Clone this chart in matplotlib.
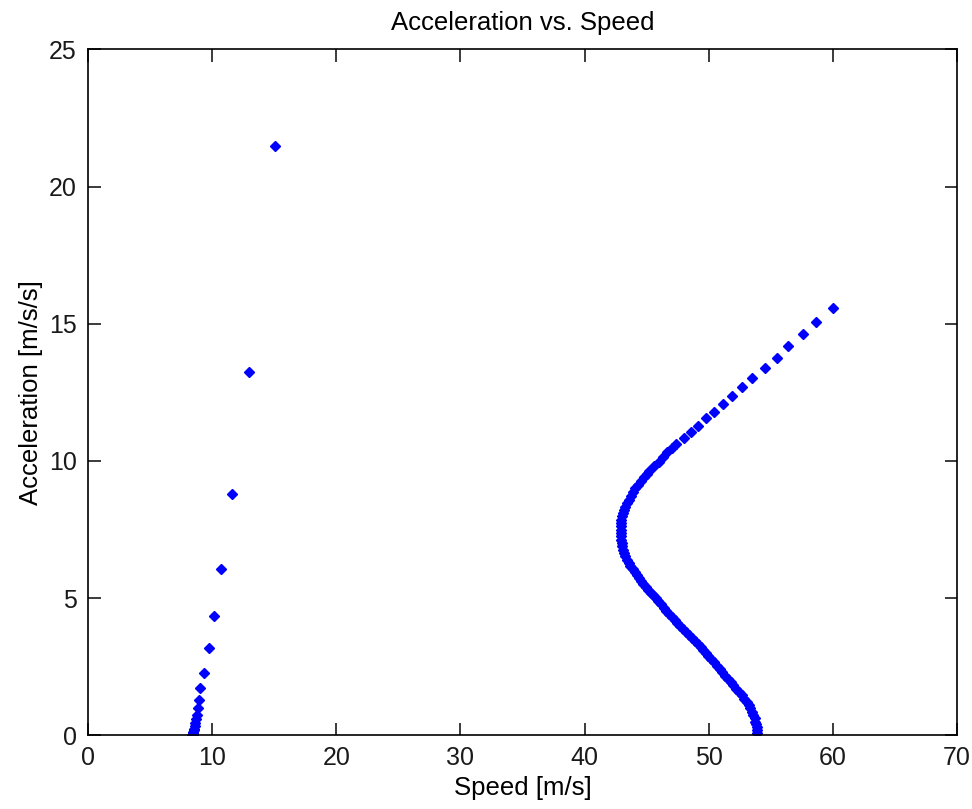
import matplotlib

matplotlib.use("Agg")

import matplotlib.pyplot as plt

# left branch (low speed)
left_speed = [15.04, 12.95, 11.63, 10.69, 10.16, 9.73, 9.38, 9.06, 8.92, 8.84,
              8.76, 8.70, 8.65, 8.60, 8.56, 8.52, 8.49, 8.46, 8.44, 8.42]
left_accel = [21.48, 13.24, 8.78, 6.08, 4.34, 3.17, 2.28, 1.73, 1.28, 0.98,
              0.75, 0.58, 0.45, 0.34, 0.25, 0.18, 0.12, 0.07, 0.03, 0.00]

# right branch (high speed)
right_speed = [60.00, 58.68, 57.58, 56.42, 55.49, 54.52, 53.53, 52.72, 51.92, 51.14,
               50.47, 49.80, 49.13, 48.54, 48.03, 47.38, 47.02, 46.68, 46.32, 45.96,
               45.60, 45.23, 45.00, 44.78, 44.52, 44.27, 44.08, 43.90, 43.75, 43.62,
               43.45, 43.28, 43.18, 43.09, 43.02, 42.96, 42.93, 42.92, 42.92, 42.93,
               42.95, 42.97, 43.00, 43.03, 43.10, 43.18, 43.28, 43.42, 43.55, 43.70,
               43.88, 44.05, 44.22, 44.40, 44.58, 44.75, 44.93, 45.12, 45.32, 45.52,
               45.72, 45.94, 46.16, 46.38, 46.60, 46.82, 47.04, 47.26, 47.48, 47.70,
               47.92, 48.16, 48.40, 48.64, 48.90, 49.14, 49.36, 49.56, 49.77, 49.98,
               50.20, 50.44, 50.66, 50.88, 51.10, 51.34, 51.56, 51.78, 52.00, 52.24,
               52.46, 52.68, 52.88, 53.06, 53.22, 53.36, 53.48, 53.60, 53.70, 53.77,
               53.82, 53.86, 53.89, 53.90]
right_accel = [15.57, 15.06, 14.63, 14.19, 13.75, 13.38, 13.02, 12.71, 12.36, 12.07,
               11.78, 11.56, 11.28, 11.05, 10.82, 10.61, 10.46, 10.32, 10.15, 9.97,
               9.82, 9.64, 9.52, 9.41, 9.27, 9.13, 9.00, 8.88, 8.74, 8.59,
               8.46, 8.34, 8.22, 8.10, 7.98, 7.86, 7.74, 7.62, 7.50, 7.37,
               7.25, 7.13, 7.01, 6.89, 6.77, 6.65, 6.52, 6.40, 6.28, 6.16,
               6.05, 5.94, 5.83, 5.72, 5.62, 5.51, 5.41, 5.31, 5.20, 5.10,
               4.99, 4.88, 4.77, 4.66, 4.55, 4.44, 4.33, 4.22, 4.11, 4.00,
               3.89, 3.78, 3.67, 3.56, 3.45, 3.34, 3.23, 3.12, 3.01, 2.90,
               2.78, 2.66, 2.54, 2.42, 2.30, 2.18, 2.06, 1.94, 1.82, 1.70,
               1.58, 1.46, 1.34, 1.22, 1.10, 0.98, 0.86, 0.74, 0.62, 0.50,
               0.40, 0.30, 0.20, 0.08]

x_ticks = [0, 10, 20, 30, 40, 50, 60, 70]
y_ticks = [0, 5, 10, 15, 20, 25]

plt.rcParams.update({
    "font.family": ["Liberation Sans", "DejaVu Sans"],
    "font.size": 18,
    "axes.linewidth": 1.2,
})

fig = plt.figure(figsize=(9.72, 8.09), dpi=100)
fig.patch.set_facecolor("white")
ax = fig.add_axes([0.0905, 0.091, 0.894, 0.848])

ax.plot(left_speed, left_accel, linestyle="none", marker="D", markersize=5.6,
        color="#0000ff", markeredgewidth=1.0)
ax.plot(right_speed, right_accel, linestyle="none", marker="D", markersize=5.6,
        color="#0000ff", markeredgewidth=1.0)

ax.set_xlim(0, 70)
ax.set_ylim(0, 25)
ax.set_xticks(x_ticks)
ax.set_yticks(y_ticks)
ax.tick_params(direction="in", length=9, width=1.2, top=True, right=True,
               labelsize=18, pad=8, colors="#1a1a1a")
for s in ax.spines.values():
    s.set_color("black")

ax.set_xlabel("Speed [m/s]", fontsize=18.5, labelpad=4)
ax.set_ylabel("Acceleration [m/s/s]", fontsize=18.5, labelpad=4)
ax.set_title("Acceleration vs. Speed", fontsize=18.5, pad=14)

fig.savefig("out.png", dpi=100, facecolor="white")
